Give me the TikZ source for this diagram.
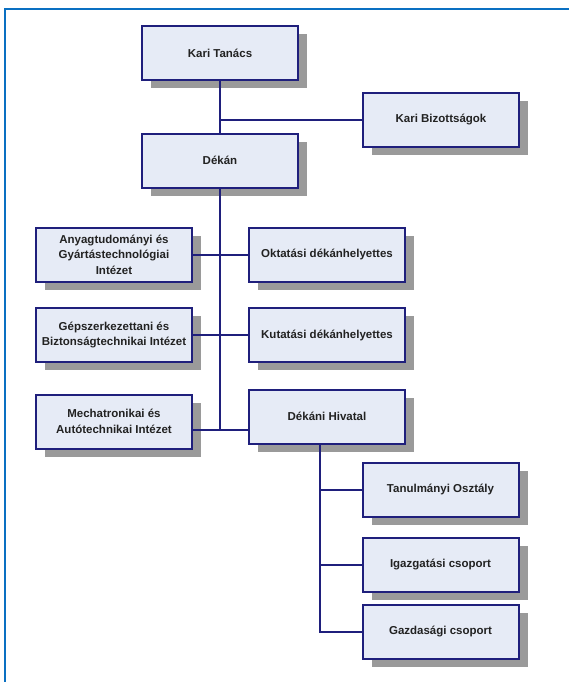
\documentclass[tikz,border=0pt]{standalone}
\usepackage{fontspec}
\setmainfont{Liberation Sans}
\usetikzlibrary{shadows}
\definecolor{framecol}{HTML}{0A70C2}
\definecolor{navy}{HTML}{1F1F7C}
\definecolor{boxfill}{HTML}{E6EBF6}
\definecolor{shadowgray}{HTML}{9A9A9A}
\definecolor{txt}{HTML}{222222}
\tikzset{
  orgbox/.style={rectangle, draw=navy, line width=2pt, fill=boxfill,
    minimum width=156pt, minimum height=54pt, inner sep=0pt,
    align=center, text=txt,
    font=\fontsize{11.5}{15.5}\selectfont\bfseries,
    drop shadow={shadow xshift=9pt, shadow yshift=-8pt, fill=shadowgray, opacity=1}},
  conn/.style={draw=navy, line width=2pt}
}
\begin{document}
\begin{tikzpicture}[x=1pt,y=-1pt]
\fill[white] (0,0) rectangle (569,682);
\useasboundingbox (0,0) rectangle (569,682);
\draw[framecol, line width=2.6pt] (5,682) -- (5,9) -- (569,9);

\node[orgbox] (kt) at (220,53) {Kari Tanács};
\node[orgbox] (kb) at (441,120) {Kari Bizottságok};
\node[orgbox] (dk) at (220,160.5) {Dékán};
\node[orgbox] (ag) at (114,254.5) {Anyagtudományi és\\Gyártástechnológiai\\Intézet};
\node[orgbox] (ok) at (327,254.5) {Oktatási dékánhelyettes};
\node[orgbox] (gp) at (114,335) {Gépszerkezettani és\\Biztonságtechnikai Intézet};
\node[orgbox] (ku) at (327,335) {Kutatási dékánhelyettes};
\node[orgbox] (me) at (114,421.5) {Mechatronikai és\\Autótechnikai Intézet};
\node[orgbox] (dh) at (327,416.5) {Dékáni Hivatal};
\node[orgbox] (tan) at (440.5,489.5) {Tanulmányi Osztály};
\node[orgbox] (ig) at (440.5,564.5) {Igazgatási csoport};
\node[orgbox] (gz) at (440.5,631.5) {Gazdasági csoport};

\coordinate (j) at (220,430);
\coordinate (hb) at ([xshift=-7pt]dh.south);

\draw[conn] (kt.south) -- (dk.north);
\draw[conn] (kt.south |- kb.west) -- (kb.west);
\draw[conn] (dk.south) -- (j);
\draw[conn] (ag.east) -- (ok.west);
\draw[conn] (gp.east) -- (ku.west);
\draw[conn] (me.east |- j) -- (dh.west |- j);
\draw[conn] (hb) |- (gz.west);
\draw[conn] (tan.west) -- (tan.west -| hb);
\draw[conn] (ig.west) -- (ig.west -| hb);
\end{tikzpicture}
\end{document}
